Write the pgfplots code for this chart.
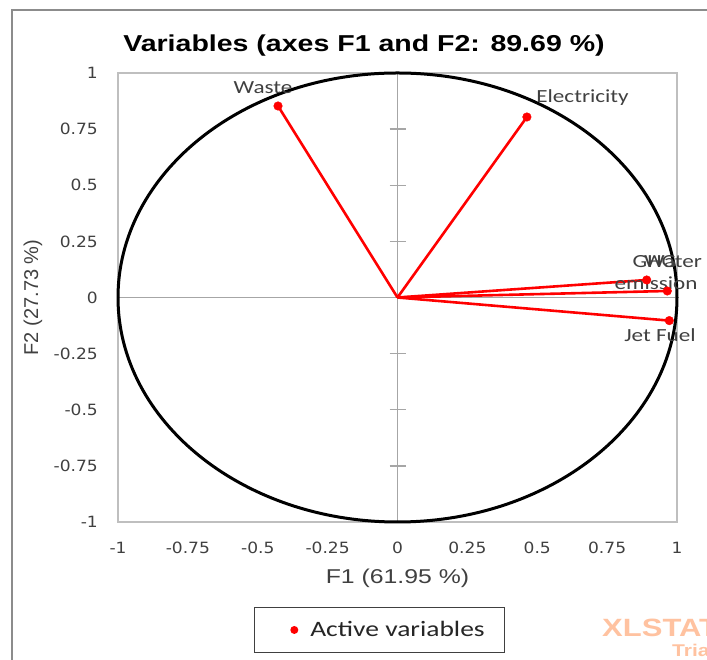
\documentclass[border=0pt]{standalone}
\usepackage{fontspec}
\setmainfont{Liberation Sans}
\newfontfamily\wideSans{Liberation Sans}[FakeStretch=1.24]
\newfontfamily\ptLabel{Carlito}[FakeStretch=1.25]
\newfontfamily\tickFont{DejaVu Sans}[FakeStretch=1.1]
\usepackage{pgfplots}
\pgfplotsset{compat=1.18}
\definecolor{frame-grey}{HTML}{BFBFBF}
\definecolor{zero-grey}{HTML}{A6A6A6}
\definecolor{outer-grey}{HTML}{8C8C8C}
\definecolor{txt-grey}{HTML}{404040}
\definecolor{xl-orange}{HTML}{FFC2A0}

\pgfplotsset{
    corr circle/.style={
        scale only axis,
        width=559pt, height=449pt,
        at={(118pt,138pt)}, anchor=south west,
        xmin=-1, xmax=1, ymin=-1, ymax=1,
    },
}

\begin{document}
\begin{tikzpicture}
    \path[use as bounding box] (0,0) rectangle (707pt,660pt);
    \draw[outer-grey, line width=1.3pt] (12pt,0pt) -- (12pt,650pt) -- (707pt,650pt);

    % zero lines, ticks only on the vertical one
    \begin{axis}[
        corr circle,
        axis lines=middle,
        axis line style={draw=zero-grey, line width=1.4pt, -},
        every inner x axis line/.append style={-},
        every inner y axis line/.append style={-},
        xtick=\empty,
        ytick={-0.75,-0.5,-0.25,0.25,0.5,0.75},
        yticklabels={},
        tick align=center,
        major tick length=16pt,
        tick style={draw=zero-grey, line width=1.3pt},
        ]
    \end{axis}

    \begin{axis}[
        corr circle,
        clip=false,
        axis line style={draw=frame-grey, line width=2pt},
        xtick={-1,-0.75,...,1},
        ytick={-1,-0.75,...,1},
        tick style={draw=none},
        major tick length=0pt,
        /pgf/number format/.cd, fixed, precision=2, assume math mode=true,
        /pgfplots/.cd,
        tick label style={font=\tickFont\fontsize{15.5}{18}\selectfont, text=txt-grey, inner sep=0pt},
        xticklabel style={anchor=center, yshift=-26pt},
        yticklabel style={anchor=east, xshift=-20pt},
        title={Variables (axes F1 and F2: 89.69 \%)},
        title style={at={([yshift=21pt]axis description cs:0.4401,1)}, anchor=center,
            font=\wideSans\bfseries\fontsize{23}{27}\selectfont, text=black},
        xlabel={F1 (61.95 \%)},
        xlabel style={at={([yshift=-56pt]axis description cs:0.5,0)}, anchor=center,
            font=\wideSans\fontsize{20}{24}\selectfont, text=txt-grey},
        ylabel={F2 (27.73 \%)},
        ylabel style={at={([xshift=-85pt]axis description cs:0,0.5)}, anchor=center,
            font=\fontsize{20}{24}\selectfont, text=txt-grey},
        legend style={at={(0.4678,-0.2405)}, anchor=center,
            draw=txt-grey, line width=1.2pt,
            inner xsep=20pt, inner ysep=14pt,
            nodes={inner sep=0pt},
            font=\ptLabel\fontsize{22}{24}\selectfont, text=black!85},
        legend image code/.code={
            \path[draw=none, fill=none] (0pt,-6pt) rectangle (36pt,6pt);
            \fill[red, draw=none] (20pt,0pt) circle (4pt);
        },
        ]
        \addplot[red, line width=2.6pt, forget plot] coordinates {(0,0) (-0.4275,0.853)};
        \addplot[red, line width=2.6pt, forget plot] coordinates {(0,0) (0.463,0.804)};
        \addplot[red, line width=2.6pt, forget plot] coordinates {(0,0) (0.8916,0.078)};
        \addplot[red, line width=2.6pt, forget plot] coordinates {(0,0) (0.9653,0.029)};
        \addplot[red, line width=2.6pt, forget plot] coordinates {(0,0) (0.9725,-0.103)};

        \draw[black, line width=3pt] (axis cs:0,0) ellipse [x radius=1, y radius=1];

        \addplot[only marks, mark=*, mark size=4.3pt, red] coordinates {
            (-0.4275,0.853)
            (0.463,0.804)
            (0.8916,0.078)
            (0.9653,0.029)
            (0.9725,-0.103)
        };
        \addlegendentry{Active variables}

        \begin{scope}[every node/.style={font=\ptLabel\fontsize{18.5}{20}\selectfont, text=txt-grey, inner sep=0pt}]
            \node at (axis cs:-0.481,0.933) {Waste};
            \node at (axis cs:0.662,0.889) {Electricity};
            \node at (axis cs:0.9195,0.160) {GHG};
            \node at (axis cs:0.9857,0.160) {Water};
            \node at (axis cs:0.925,0.0646) {emission};
            \node at (axis cs:0.939,-0.167) {Jet Fuel};
        \end{scope}
    \end{axis}

    \node[anchor=base west, inner sep=0pt, text=xl-orange,
        font=\wideSans\bfseries\fontsize{25}{28}\selectfont] at (602pt,23pt) {XLSTAT};
    \node[anchor=base west, inner sep=0pt, text=xl-orange,
        font=\wideSans\bfseries\fontsize{17}{20}\selectfont] at (672pt,3pt) {Trial};
\end{tikzpicture}
\end{document}
